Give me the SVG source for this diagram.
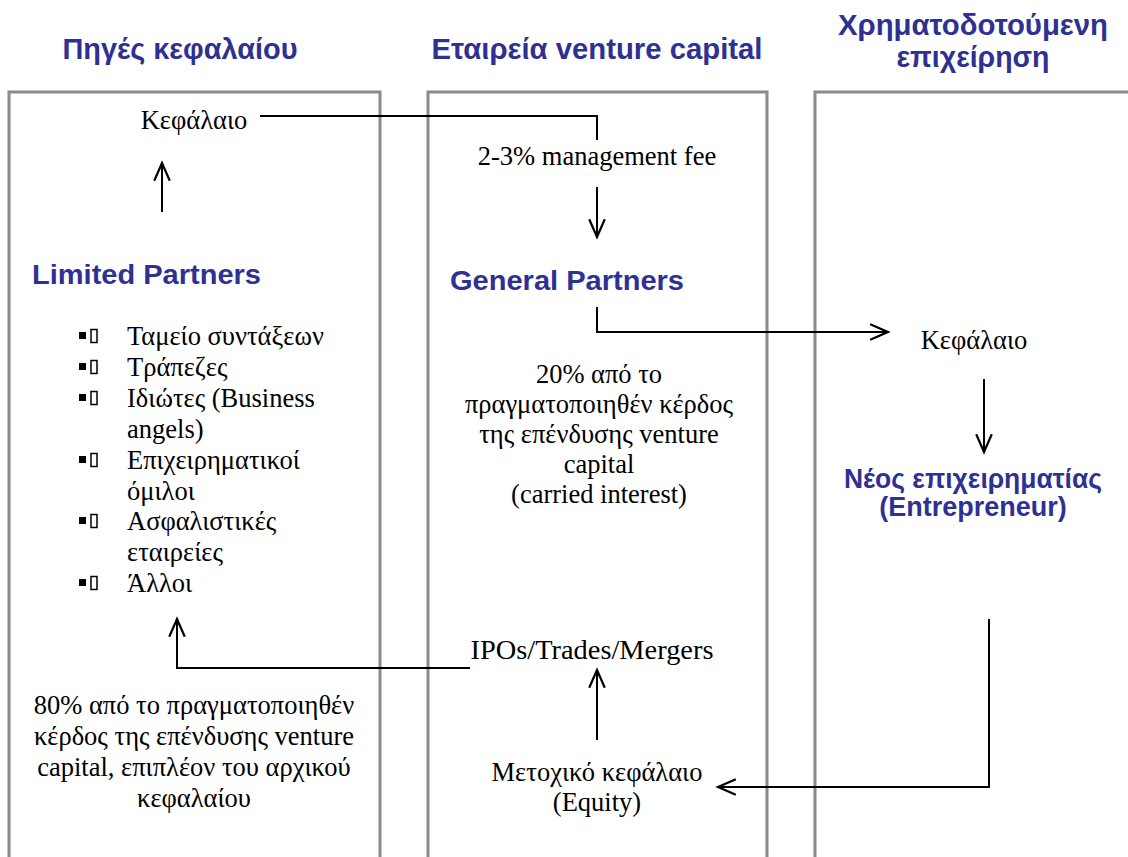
<svg xmlns="http://www.w3.org/2000/svg" width="1128" height="857" viewBox="0 0 1128 857">
<style>
.box{fill:none;stroke:#8a8a8a;stroke-width:3}
.hdr{font-family:"Liberation Sans",Arial,sans-serif;font-weight:bold;font-size:30px;fill:#2e3192;text-anchor:middle}
.blue{font-family:"Liberation Sans",Arial,sans-serif;font-weight:bold;font-size:27px;fill:#2e3192}
.t{font-family:"Liberation Serif","Times New Roman",serif;font-size:26.5px;fill:#000}
.c{text-anchor:middle}
.ln{fill:none;stroke:#000;stroke-width:2}
.bul{fill:#000}
.tofu{fill:none;stroke:#000;stroke-width:1.5}
</style>
<defs>
<marker id="ah" markerUnits="userSpaceOnUse" markerWidth="24" markerHeight="20" viewBox="-18 -9 20 18" refX="0" refY="0" orient="auto">
<path d="M-16,-7 L0,0 L-16,7" fill="none" stroke="#000" stroke-width="2"/>
</marker>
</defs>
<rect width="1128" height="857" fill="#fff"/>

<g id="headers">
<text class="hdr" x="180" y="59" textLength="235" lengthAdjust="spacingAndGlyphs">Πηγές κεφαλαίου</text>
<text class="hdr" x="597" y="59" textLength="331" lengthAdjust="spacingAndGlyphs">Εταιρεία venture capital</text>
<text class="hdr" x="973" y="35" textLength="270" lengthAdjust="spacingAndGlyphs">Χρηματοδοτούμενη</text>
<text class="hdr" x="973" y="67" textLength="153" lengthAdjust="spacingAndGlyphs">επιχείρηση</text>
</g>

<g id="columns">
<path class="box" d="M9,870 V92 H380 V870"/>
<path class="box" d="M428,870 V92 H767 V870"/>
<path class="box" d="M815,870 V92 H1140"/>
</g>

<g id="connectors">
<path class="ln" d="M260,116 H597 V140"/>
<path class="ln" d="M597,187 V237" marker-end="url(#ah)"/>
<path class="ln" d="M162,212 V163" marker-end="url(#ah)"/>
<path class="ln" d="M597,307 V332 H888" marker-end="url(#ah)"/>
<path class="ln" d="M984,379 V452" marker-end="url(#ah)"/>
<path class="ln" d="M989,619 V787 H718" marker-end="url(#ah)"/>
<path class="ln" d="M597,740 V670" marker-end="url(#ah)"/>
<path class="ln" d="M470,668 H177 V619" marker-end="url(#ah)"/>
</g>

<g id="lp-kefalaio">
<text class="t c" x="194" y="129">Κεφάλαιο</text>
</g>

<g id="limited-partners">
<text class="blue" x="32" y="284" textLength="229" lengthAdjust="spacingAndGlyphs">Limited Partners</text>
<rect class="bul" x="79" y="332" width="7" height="7"/><rect class="tofu" x="91" y="329.5" width="6" height="13"/>
<text class="t" x="127" y="345">Ταμείο συντάξεων</text>
<rect class="bul" x="79" y="363" width="7" height="7"/><rect class="tofu" x="91" y="360.5" width="6" height="13"/>
<text class="t" x="127" y="376">Τράπεζες</text>
<rect class="bul" x="79" y="394" width="7" height="7"/><rect class="tofu" x="91" y="391.5" width="6" height="13"/>
<text class="t" x="127" y="407">Ιδιώτες (Business</text>
<text class="t" x="127" y="438">angels)</text>
<rect class="bul" x="79" y="456" width="7" height="7"/><rect class="tofu" x="91" y="453.5" width="6" height="13"/>
<text class="t" x="127" y="469">Επιχειρηματικοί</text>
<text class="t" x="127" y="500">όμιλοι</text>
<rect class="bul" x="79" y="517" width="7" height="7"/><rect class="tofu" x="91" y="514.5" width="6" height="13"/>
<text class="t" x="127" y="530">Ασφαλιστικές</text>
<text class="t" x="127" y="561">εταιρείες</text>
<rect class="bul" x="79" y="579" width="7" height="7"/><rect class="tofu" x="91" y="576.5" width="6" height="13"/>
<text class="t" x="127" y="592">Άλλοι</text>
</g>

<g id="lp-return">
<text class="t c" x="194" y="714">80% από το πραγματοποιηθέν</text>
<text class="t c" x="194" y="745">κέρδος της επένδυσης venture</text>
<text class="t c" x="194" y="776">capital, επιπλέον του αρχικού</text>
<text class="t c" x="194" y="807">κεφαλαίου</text>
</g>

<g id="mgmt-fee">
<text class="t c" x="597" y="165">2-3% management fee</text>
</g>

<g id="general-partners">
<text class="blue" x="450" y="290" textLength="234" lengthAdjust="spacingAndGlyphs">General Partners</text>
</g>

<g id="carried-interest">
<text class="t c" x="599" y="383">20% από το</text>
<text class="t c" x="599" y="413">πραγματοποιηθέν κέρδος</text>
<text class="t c" x="599" y="443">της επένδυσης venture</text>
<text class="t c" x="599" y="473">capital</text>
<text class="t c" x="599" y="503">(carried interest)</text>
</g>

<g id="exits">
<text class="t c" x="592" y="659" textLength="243" lengthAdjust="spacingAndGlyphs">IPOs/Trades/Mergers</text>
</g>

<g id="equity">
<text class="t c" x="597" y="781">Μετοχικό κεφάλαιο</text>
<text class="t c" x="597" y="811">(Equity)</text>
</g>

<g id="company-kefalaio">
<text class="t c" x="974" y="349">Κεφάλαιο</text>
</g>

<g id="entrepreneur">
<text class="blue c" x="973" y="488" textLength="258" lengthAdjust="spacingAndGlyphs">Νέος επιχειρηματίας</text>
<text class="blue c" x="973" y="516">(Entrepreneur)</text>
</g>
</svg>
